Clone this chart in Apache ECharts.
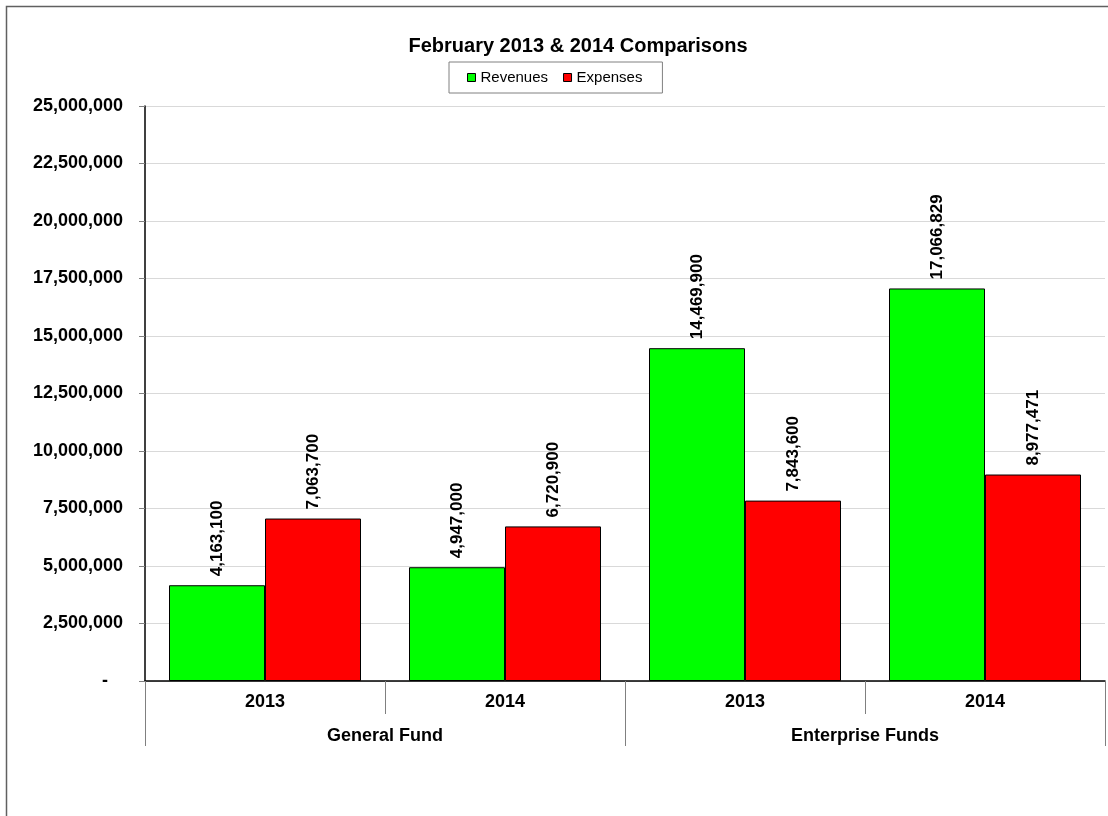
<!DOCTYPE html>
<html>
<head>
<meta charset="utf-8">
<script src="https://cdn.jsdelivr.net/npm/echarts@6/dist/echarts.min.js"></script>
<style>
  html, body { margin: 0; padding: 0; background: #fff; }
  #chart { width: 1108px; height: 816px; }
</style>
</head>
<body>
<div id="chart"></div>
<script>
// Chart data
const years = ['2013', '2014', '2013', '2014'];
const funds = ['General Fund', 'Enterprise Funds'];
const revenues = [4163100, 4947000, 14469900, 17066829];
const expenses = [7063700, 6720900, 7843600, 8977471];
const seriesNames = ['Revenues', 'Expenses'];
const yMax = 25000000;
const yStep = 2500000;

// Accounting-style number format: zero shows as a dash
const fmt = v => v === 0 ? '-' : Math.round(v).toLocaleString('en-US');
const FONT = 'Liberation Sans, Arial, sans-serif';

const chart = echarts.init(document.getElementById('chart'), null, { renderer: 'canvas' });

const barLabel = {
  show: true,
  position: 'top',
  rotate: 90,
  align: 'left',
  verticalAlign: 'middle',
  distance: 9,
  color: '#000',
  fontFamily: FONT,
  fontWeight: 'bold',
  fontSize: 17,
  formatter: p => fmt(p.value)
};

chart.setOption({
  animation: false,
  backgroundColor: '#fff',
  title: {
    text: 'February 2013 & 2014 Comparisons',
    left: 573,
    textAlign: 'center',
    top: 31,
    textStyle: { fontFamily: FONT, fontWeight: 'bold', fontSize: 20, color: '#000' }
  },
  legend: {
    data: seriesNames,
    left: 449,
    top: 62,
    padding: [8, 20, 8, 18],
    borderColor: '#808080',
    borderWidth: 1,
    itemWidth: 8,
    itemHeight: 8,
    itemGap: 15,
    icon: 'rect',
    itemStyle: { borderColor: '#000', borderWidth: 1 },
    textStyle: { fontFamily: FONT, fontSize: 15, color: '#000' }
  },
  graphic: [{
    type: 'polyline',
    shape: { points: [[6.5, 820], [6.5, 6.5], [1110, 6.5]] },
    style: { stroke: '#606060', lineWidth: 1.5, fill: null },
    silent: true
  }],
  grid: { left: 145, top: 106, right: 3, bottom: 135 },
  xAxis: [{
    type: 'category',
    data: years,
    position: 'bottom',
    axisLine: { show: true, lineStyle: { color: '#000', width: 1.5 } },
    axisTick: { show: true, alignWithLabel: false, length: 33, lineStyle: { color: '#808080' } },
    axisLabel: { margin: 12, fontFamily: FONT, fontWeight: 'bold', fontSize: 18, color: '#000' }
  }, {
    type: 'category',
    data: funds,
    position: 'bottom',
    offset: 0,
    axisLine: { show: false },
    axisTick: { show: true, alignWithLabel: false, length: 65, lineStyle: { color: '#808080' } },
    axisLabel: { margin: 46, fontFamily: FONT, fontWeight: 'bold', fontSize: 18, color: '#000' }
  }],
  yAxis: {
    type: 'value',
    min: 0,
    max: yMax,
    interval: yStep,
    axisLine: { show: true, lineStyle: { color: '#000', width: 1.5 } },
    axisTick: { show: true, length: 6, lineStyle: { color: '#808080' } },
    splitLine: { show: true, lineStyle: { color: '#d9d9d9' } },
    axisLabel: {
      margin: 22,
      fontFamily: FONT, fontWeight: 'bold', fontSize: 18, color: '#000',
      formatter: v => v === 0 ? '-   ' : fmt(v)
    }
  },
  series: [{
    name: seriesNames[0],
    type: 'bar',
    xAxisIndex: 0,
    data: revenues,
    barGap: '0%',
    barCategoryGap: '20%',
    itemStyle: { color: '#00ff00', borderColor: '#000', borderWidth: 1 },
    label: barLabel
  }, {
    name: seriesNames[1],
    type: 'bar',
    xAxisIndex: 0,
    data: expenses,
    barGap: '0%',
    barCategoryGap: '20%',
    itemStyle: { color: '#ff0000', borderColor: '#000', borderWidth: 1 },
    label: barLabel
  }]
});
</script>
</body>
</html>
